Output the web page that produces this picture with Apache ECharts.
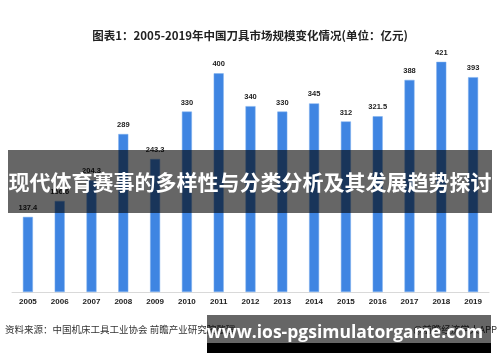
<!DOCTYPE html>
<html><head><meta charset="utf-8">
<script src="https://cdn.jsdelivr.net/npm/echarts@6/dist/echarts.min.js"></script>
<style>html,body{margin:0;padding:0;background:#fff}#c{width:500px;height:362px}</style>
</head><body><div id="c"></div>
<script>
const years = ['2005','2006','2007','2008','2009','2010','2011','2012','2013','2014','2015','2016','2017','2018','2019'];
const values = [137.4,166.6,204.3,289,243.3,330,400,340,330,345,312,321.5,388,421,393];
const titleText = '图表1：2005-2019年中国刀具市场规模变化情况(单位：亿元)';
const bannerText = '现代体育赛事的多样性与分类分析及其发展趋势探讨';
const sourceText = '资料来源：中国机床工具工业协会 前瞻产业研究院整理';
const creditText = '@前瞻经济学人APP';
const urlText = 'www.ios-pgsimulatorgame.com';

const chart = echarts.init(document.getElementById('c'));
chart.setOption({
  animation: false,
  backgroundColor: '#fff',
  title: {text: titleText, left: 'center', top: 25,
    textStyle: {fontSize: 11.5, fontWeight: 'bold', color: '#222', fontFamily: 'Noto Sans CJK SC'}},
  grid: {left: 12, right: 11, top: 46, bottom: 70},
  xAxis: {type: 'category', data: years,
    axisLine: {lineStyle: {color: '#d9d9d9'}}, axisTick: {show: false},
    axisLabel: {color: '#222', fontSize: 8, fontWeight: 'bold', margin: 6, fontFamily: 'Liberation Sans'}},
  yAxis: {type: 'value', min: 0, max: 450, show: false, splitLine: {show: false}},
  series: [{type: 'bar', data: values, barWidth: 10,
    itemStyle: {color: '#3f85e2', borderColor: '#7fb0ee', borderWidth: 0.5},
    label: {show: true, position: 'top', distance: 5, color: '#222', fontSize: 7.5, fontWeight: 'bold', fontFamily: 'Liberation Sans'}}],
  graphic: [
    {type: 'text', left: 5, top: 325, z: 50,
      style: {text: sourceText, fontSize: 9.5, fill: '#333', fontFamily: 'Noto Sans CJK SC'}},
    {type: 'text', right: 3, top: 325, z: 50,
      style: {text: creditText, fontSize: 9.5, fill: '#333', fontFamily: 'Noto Sans CJK SC'}},
    {type: 'rect', z: 100, shape: {x: 8, y: 150, width: 484, height: 63}, style: {fill: 'rgba(0,0,0,0.6)'}},
    {type: 'text', z: 101, x: 250, y: 182,
      style: {text: bannerText, fontSize: 21, fontWeight: 'bold', fill: '#fff', align: 'center', verticalAlign: 'middle', fontFamily: 'Noto Sans CJK SC'}},
    {type: 'rect', z: 100, shape: {x: 207, y: 315, width: 284, height: 28}, style: {fill: 'rgba(0,0,0,0.6)'}},
    {type: 'rect', z: 100, shape: {x: 207, y: 343, width: 284, height: 10}, style: {fill: '#000'}},
    {type: 'text', z: 101, x: 345, y: 333,
      style: {text: urlText, fontSize: 17.5, fontWeight: 'bold', fill: '#fff', align: 'center', verticalAlign: 'middle', fontFamily: 'Open Sans'}}
  ]
});
</script></body></html>
